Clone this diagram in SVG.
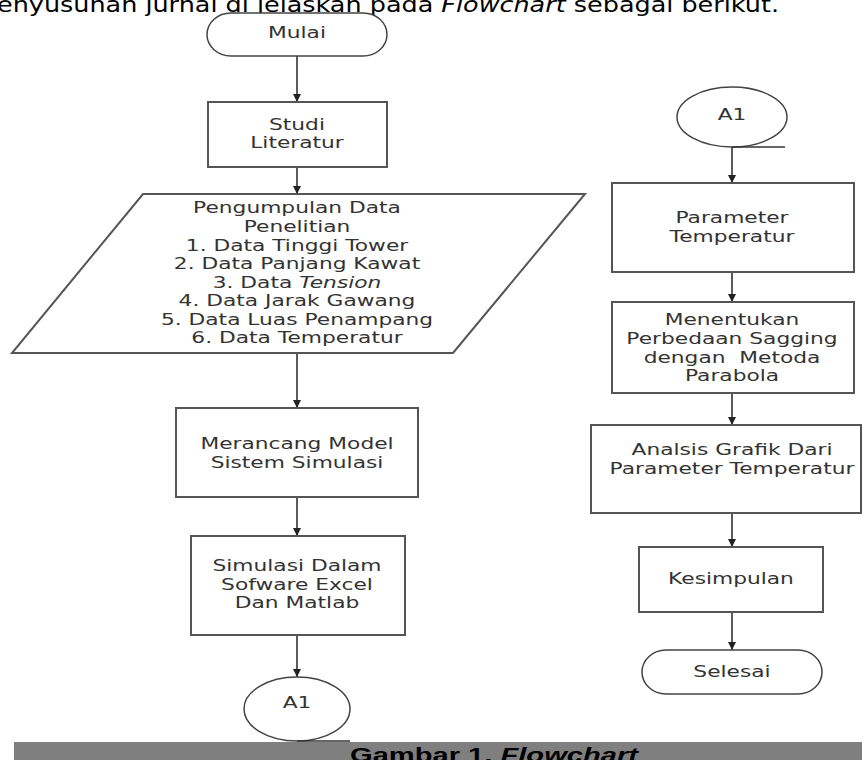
<svg xmlns="http://www.w3.org/2000/svg" width="862" height="760" viewBox="0 0 862 760">
<style>
.bg{fill:#ffffff}
.box{fill:#ffffff;stroke:#555555;stroke-width:2}
.term{fill:#ffffff;stroke:#444444;stroke-width:1.5}
.conn{stroke:#333333;stroke-width:1.6;fill:none}
.lbl{font-family:"DejaVu Sans",Verdana,sans-serif;font-size:15px;fill:#333333;text-anchor:middle}
.it{font-style:italic}
.top{font-family:"DejaVu Sans",Verdana,sans-serif;font-size:22px;fill:#000000}
.cap{font-family:"Liberation Sans",Arial,sans-serif;font-size:20px;font-weight:bold;fill:#000000}
</style>
<defs>
<marker id="ah" viewBox="0 0 10 10" refX="10" refY="5" markerWidth="9" markerHeight="8" markerUnits="userSpaceOnUse" orient="auto">
<path d="M0,0 L10,5 L0,10 z" fill="#222222"/>
</marker>
</defs>
<rect class="bg" x="0" y="0" width="862" height="760"/>
<text class="top" x="-3" y="12" textLength="782" lengthAdjust="spacingAndGlyphs">enyusunan jurnal di jelaskan pada <tspan class="it">Flowchart</tspan> sebagai berikut.</text>

<g id="connectors">
<line class="conn" x1="297" y1="56" x2="297" y2="102" marker-end="url(#ah)"/>
<line class="conn" x1="297" y1="167" x2="297" y2="194" marker-end="url(#ah)"/>
<line class="conn" x1="297" y1="353" x2="297" y2="408" marker-end="url(#ah)"/>
<line class="conn" x1="297" y1="497" x2="297" y2="536" marker-end="url(#ah)"/>
<line class="conn" x1="297" y1="635" x2="297" y2="677" marker-end="url(#ah)"/>
<line class="conn" x1="732" y1="147" x2="732" y2="183" marker-end="url(#ah)"/>
<line class="conn" x1="732" y1="272" x2="732" y2="302" marker-end="url(#ah)"/>
<line class="conn" x1="732" y1="393" x2="732" y2="425" marker-end="url(#ah)"/>
<line class="conn" x1="732" y1="513" x2="732" y2="547" marker-end="url(#ah)"/>
<line class="conn" x1="732" y1="612" x2="732" y2="650" marker-end="url(#ah)"/>
</g>

<g id="mulai">
<rect class="term" x="207" y="13" width="180" height="43" rx="24" ry="21.5"/>
<text class="lbl" transform="matrix(1.45 0 0 1 297 0)"><tspan x="0" y="38">Mulai</tspan></text>
</g>

<g id="studi">
<rect class="box" x="208" y="102" width="179" height="65"/>
<text class="lbl" transform="matrix(1.45 0 0 1 297 0)"><tspan x="0" y="130">Studi</tspan><tspan x="0" y="148">Literatur</tspan></text>
</g>

<g id="pengumpulan">
<polygon class="box" points="143,194 585,194 453,353 12,353"/>
<text class="lbl" transform="matrix(1.45 0 0 1 297 0)"><tspan x="0" y="213">Pengumpulan Data</tspan><tspan x="0" y="232">Penelitian</tspan><tspan x="0" y="251">1. Data Tinggi Tower</tspan><tspan x="0" y="269">2. Data Panjang Kawat</tspan><tspan x="0" y="288">3. Data <tspan class="it">Tension</tspan></tspan><tspan x="0" y="306">4. Data Jarak Gawang</tspan><tspan x="0" y="325">5. Data Luas Penampang</tspan><tspan x="0" y="343">6. Data Temperatur</tspan></text>
</g>

<g id="merancang">
<rect class="box" x="176" y="408" width="242" height="89"/>
<text class="lbl" transform="matrix(1.45 0 0 1 297 0)"><tspan x="0" y="449">Merancang Model</tspan><tspan x="0" y="468">Sistem Simulasi</tspan></text>
</g>

<g id="simulasi">
<rect class="box" x="191" y="536" width="214" height="99"/>
<text class="lbl" transform="matrix(1.45 0 0 1 297 0)"><tspan x="0" y="571">Simulasi Dalam</tspan><tspan x="0" y="590">Sofware Excel</tspan><tspan x="0" y="608">Dan Matlab</tspan></text>
</g>

<g id="a1-bottom">
<ellipse class="term" cx="297" cy="709" rx="53" ry="32"/>
<line class="conn" x1="297" y1="741" x2="350" y2="741"/>
<text class="lbl" transform="matrix(1.45 0 0 1 297 0)"><tspan x="0" y="708">A1</tspan></text>
</g>

<g id="a1-top">
<ellipse class="term" cx="732" cy="117" rx="55" ry="30"/>
<line class="conn" x1="732" y1="147" x2="785" y2="147"/>
<text class="lbl" transform="matrix(1.45 0 0 1 732 0)"><tspan x="0" y="120">A1</tspan></text>
</g>

<g id="parameter">
<rect class="box" x="612" y="183" width="242" height="89"/>
<text class="lbl" transform="matrix(1.45 0 0 1 732 0)"><tspan x="0" y="223">Parameter</tspan><tspan x="0" y="242">Temperatur</tspan></text>
</g>

<g id="menentukan">
<rect class="box" x="612" y="302" width="242" height="91"/>
<text class="lbl" xml:space="preserve" transform="matrix(1.45 0 0 1 732 0)"><tspan x="0" y="325">Menentukan</tspan><tspan x="0" y="344">Perbedaan Sagging</tspan><tspan x="0" y="363">dengan  Metoda</tspan><tspan x="0" y="381">Parabola</tspan></text>
</g>

<g id="analsis">
<rect class="box" x="591" y="425" width="270" height="88"/>
<text class="lbl" transform="matrix(1.45 0 0 1 732 0)"><tspan x="0" y="455">Analsis Grafik Dari</tspan><tspan x="0" y="474">Parameter Temperatur</tspan></text>
</g>

<g id="kesimpulan">
<rect class="box" x="639" y="547" width="184" height="65"/>
<text class="lbl" transform="matrix(1.45 0 0 1 731 0)"><tspan x="0" y="584">Kesimpulan</tspan></text>
</g>

<g id="selesai">
<rect class="term" x="642" y="650" width="180" height="44" rx="24" ry="22"/>
<text class="lbl" transform="matrix(1.45 0 0 1 732 0)"><tspan x="0" y="677">Selesai</tspan></text>
</g>

<g id="caption">
<rect x="14" y="742" width="848" height="18" fill="#7f7f7f"/>
<text class="cap" x="350" y="762" textLength="288" lengthAdjust="spacingAndGlyphs">Gambar 1. <tspan font-style="italic">Flowchart</tspan></text>
</g>
</svg>
